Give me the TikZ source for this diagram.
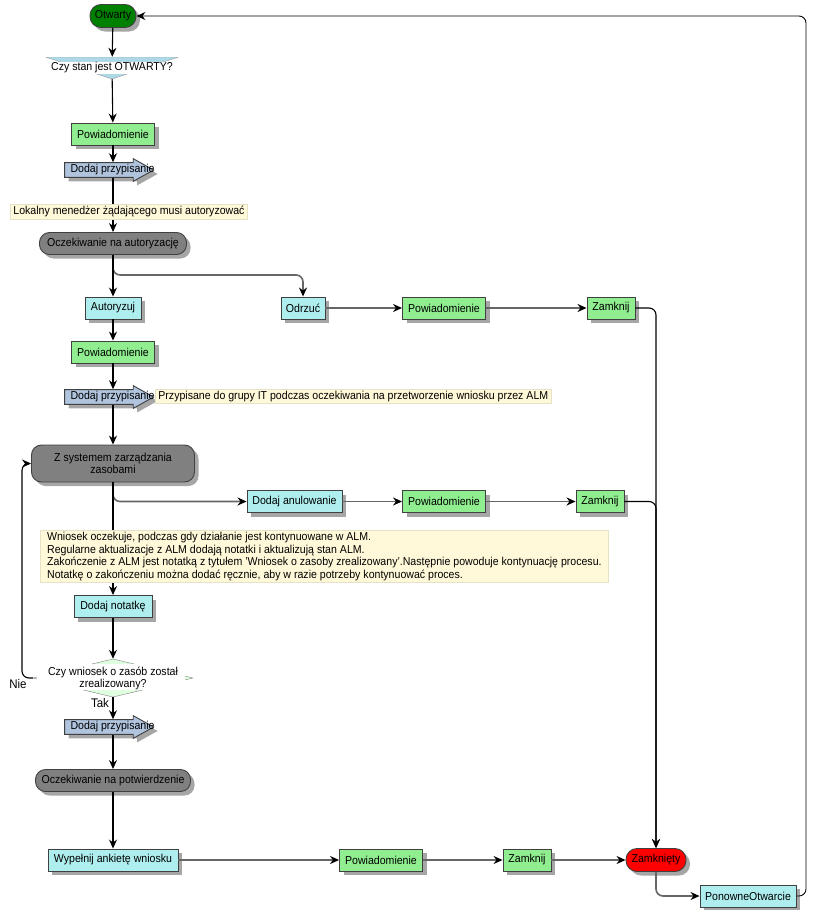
\documentclass[tikz,border=0pt]{standalone}
\usepackage{fontspec}
\setmainfont{Liberation Sans}[FakeStretch=0.92]
\usetikzlibrary{shapes,shapes.arrows,arrows.meta,shadows,calc}

\definecolor{opengreen}{HTML}{008000}
\definecolor{notifygreen}{HTML}{90EE90}
\definecolor{taskcyan}{HTML}{AFEEEE}
\definecolor{assignblue}{HTML}{B0C4DE}
\definecolor{waitgray}{HTML}{808080}
\definecolor{notefill}{HTML}{FFF9D9}
\definecolor{noteedge}{HTML}{E6E2C8}
\definecolor{decblue}{HTML}{ADD8E6}
\definecolor{decgreen}{HTML}{E0FFE0}

\begin{document}
\begin{tikzpicture}[x=1pt,y=-1pt,font=\fontsize{11.5}{13.5}\selectfont]
      \tikzset{shade box/.style={drop shadow={shadow xshift=4pt,shadow yshift=-4pt,fill=black!35,opacity=1}},
        box/.style={draw=black!75, line width=0.9pt, minimum height=22pt,
          inner xsep=3pt, inner ysep=1pt, shade box},
        notify/.style={box, fill=notifygreen, minimum width=83pt},
        task/.style={box, fill=taskcyan},
        wait state/.style={box, fill=waitgray, rounded corners=10pt},
        terminal/.style={box, rounded corners=11pt, minimum height=23pt},
        assign/.style={single arrow, draw=black!75, line width=0.9pt, fill=assignblue,
          single arrow head extend=4pt, single arrow tip angle=58,
          inner xsep=5.5pt, inner ysep=1.5pt, shade box},
        note/.style={fill=notefill, draw=noteedge, line width=0.8pt, inner xsep=3pt, inner ysep=2pt},
        decision top/.style={minimum width=133pt, minimum height=22pt, inner sep=0pt,
          path picture={
            \filldraw[fill=decblue, draw=black!40] (path picture bounding box.north west)
              -- (path picture bounding box.north east) -- (path picture bounding box.south) -- cycle;
            \fill[white] ($(path picture bounding box.north west)+(3,5)$)
              rectangle ($(path picture bounding box.north east)+(-3,17)$);}},
        decision/.style={minimum width=160pt, minimum height=38pt, inner sep=0pt, align=center,
          font=\fontsize{11.5}{12}\selectfont,
          path picture={
            \filldraw[fill=decgreen, draw=black!50] (path picture bounding box.north)
              -- (path picture bounding box.east) -- (path picture bounding box.south)
              -- (path picture bounding box.west) -- cycle;
            \fill[white] ($(path picture bounding box.west)+(4,-14)$)
              rectangle ($(path picture bounding box.east)+(-8,12)$);}},
        flow/.style={line width=1.1pt, rounded corners=7pt, -{Stealth[length=9pt,width=8pt,color=black]}},
        branch/.style={flow, draw=black!60, line width=1.6pt}
      }
      \useasboundingbox (0,0) rectangle (815,910);

      \node [terminal, fill=opengreen, minimum width=46pt] (otwarty) at (113,16) {Otwarty};
      \node [decision top] (q1) at (112,68) {Czy stan jest OTWARTY?};
      \node [notify] (pw1) at (113,134) {Powiadomienie};
      \node [assign] (as1) at (102.5,170) {\makebox[64pt][l]{Dodaj przypisanie}};
      \node [wait state, minimum width=147pt] (ocz1) at (113,243.5) {Oczekiwanie na autoryzację};
      \node [task, minimum width=56pt] (autoryzuj) at (113,308) {Autoryzuj};
      \node [task, minimum width=44pt] (odrzuc) at (303,308) {Odrzuć};
      \node [notify] (pw2) at (444,308) {Powiadomienie};
      \node [notify, minimum width=48pt] (zam1) at (611,308) {Zamknij};
      \node [notify] (pw3) at (113,352) {Powiadomienie};
      \node [assign] (as2) at (102.5,397) {\makebox[64pt][l]{Dodaj przypisanie}};
      \node [wait state, minimum width=163pt, minimum height=37pt, align=center,
        font=\fontsize{11.5}{12.5}\selectfont] (zsys) at (113,463.5) {Z systemem zarządzania\\zasobami};
      \node [task, minimum width=95pt] (anul) at (294.5,501.5) {Dodaj anulowanie};
      \node [notify] (pw4) at (444,501.5) {Powiadomienie};
      \node [notify, minimum width=48pt] (zam2) at (600,501.5) {Zamknij};
      \node [task, minimum width=78pt] (notatka) at (113,606.5) {Dodaj notatkę};
      \node [decision] (q2) at (113,678) {Czy wniosek o zasób został\\zrealizowany?};
      \node [assign] (as3) at (102.5,727) {\makebox[64pt][l]{Dodaj przypisanie}};
      \node [wait state, minimum width=155pt] (ocz2) at (113,780.5) {Oczekiwanie na potwierdzenie};
      \node [task, minimum width=130pt] (ankieta) at (113,860) {Wypełnij ankietę wniosku};
      \node [notify] (pw5) at (381,860) {Powiadomienie};
      \node [notify, minimum width=48pt] (zam3) at (527,860) {Zamknij};
      \node [terminal, fill=red, minimum width=60pt] (zamkniety) at (656,860) {Zamknięty};
      \node [task, minimum width=96pt] (ponowne) at (748,896) {PonowneOtwarcie};
      \node [font=\fontsize{12.5}{14}\selectfont] (nie) at (18,684) {Nie};
      \node [font=\fontsize{12.5}{14}\selectfont] (tak) at (100,703) {Tak};
      \coordinate (nieloop) at (22,463.5);
      \coordinate (reopen) at (806,16);

      \draw [branch] (ocz1.south) -- ++(0,20) -| (odrzuc);
      \draw [branch] (odrzuc) -- (pw2);
      \draw [branch] (pw2) -- (zam1);
      \draw [branch] (zsys.south) |- (anul);
      \draw [branch] (anul) -- (pw4);
      \draw [branch] (pw4) -- (zam2);
      \draw [branch] (ankieta) -- (pw5);
      \draw [branch] (pw5) -- (zam3);
      \draw [branch] (zam3) -- (zamkniety);
      \draw [branch] (zamkniety.south) |- (ponowne);
      \draw [flow] (zam1) -| (zamkniety);
      \draw [flow] (zam2) -| (zamkniety);
      \draw [flow] (otwarty) -- (q1);
      \draw [flow] (q1) -- (pw1);
      \draw [flow] (pw1) -- (pw1 |- as1.north);
      \draw [flow] (ocz1 |- as1.south) -- (ocz1);
      \draw [flow] (ocz1) -- (autoryzuj);
      \draw [flow] (autoryzuj) -- (pw3);
      \draw [flow] (pw3) -- (pw3 |- as2.north);
      \draw [flow] (zsys |- as2.south) -- (zsys);
      \draw [flow] (zsys) -- (notatka);
      \draw [flow] (notatka) -- (q2);
      \draw [flow] (q2.west) -| (nieloop) -- (zsys.west);
      \draw [flow] (q2) -- (q2 |- as3.north);
      \draw [flow] (ocz2 |- as3.south) -- (ocz2);
      \draw [flow] (ocz2) -- (ankieta);
      \draw [flow, line width=0.9pt] (ponowne) -| (reopen) -- (otwarty);

      \node [note] (n1) at (129,211.5) {Lokalny menedżer żądającego musi autoryzować};
      \node [note, anchor=west] (n2) at (155,396.5) {Przypisane do grupy IT podczas oczekiwania na przetworzenie wniosku przez ALM};
      \node [note, anchor=north west, align=left, minimum width=568pt,
        font=\fontsize{11.5}{12.5}\selectfont] (n3) at (40,530) {Wniosek oczekuje, podczas gdy działanie jest kontynuowane w ALM.\\
        Regularne aktualizacje z ALM dodają notatki i aktualizują stan ALM.\\
        Zakończenie z ALM jest notatką z tytułem 'Wniosek o zasoby zrealizowany'.Następnie powoduje kontynuację procesu.\\
        Notatkę o zakończeniu można dodać ręcznie, aby w razie potrzeby kontynuować proces.};
    \end{tikzpicture}
\end{document}
